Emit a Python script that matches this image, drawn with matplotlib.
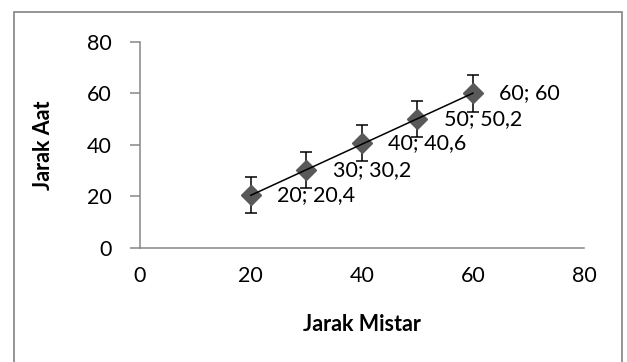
import numpy as np
import matplotlib.pyplot as plt
from matplotlib.patches import Rectangle

# data
jarak_mistar = [20, 30, 40, 50, 60]
jarak_aat = [20.4, 30.2, 40.6, 50.2, 60]
err = [7, 7, 7, 7, 7]

plt.rcParams['font.family'] = ['Lato', 'DejaVu Sans']
fs = 15.5

fig = plt.figure(figsize=(6.27, 3.62), dpi=100)
ax = fig.add_axes([0.2227, 0.315, 0.7087, 0.569])

# chart frame
fig.patches.append(Rectangle((14 / 627, -0.05), 608 / 627, 1 - 12 / 362 + 0.05,
                             transform=fig.transFigure, fill=False,
                             edgecolor='#8c8c8c', linewidth=1.3))

ax.errorbar(jarak_mistar, jarak_aat, yerr=err, fmt='none', ecolor='black',
            elinewidth=1.1, capsize=4, capthick=1.1, zorder=2)
ax.plot(jarak_mistar, jarak_aat, linestyle='none', marker='D', markersize=10,
        color='#595959', zorder=3)

# linear trend line
coef = np.polyfit(jarak_mistar, jarak_aat, 1)
xs = np.array([jarak_mistar[0], jarak_mistar[-1]])
ax.plot(xs, np.polyval(coef, xs), color='black', linewidth=1.1, zorder=4)

for x, y in zip(jarak_mistar, jarak_aat):
    lbl = f"{x:g}; {y:g}".replace('.', ',')
    ax.annotate(lbl, (x, y), xytext=(19, 0), textcoords='offset points',
                ha='left', va='center', fontsize=fs)

ax.set_xlim(0, 80)
ax.set_ylim(0, 80)
ax.set_xticks([0, 20, 40, 60, 80])
ax.set_yticks([0, 20, 40, 60, 80])

for s in ['top', 'right']:
    ax.spines[s].set_visible(False)
for s in ['left', 'bottom']:
    ax.spines[s].set_color('#868686')
    ax.spines[s].set_linewidth(1.1)

ax.tick_params(axis='y', length=7, width=1.1, color='#868686', pad=13, labelsize=fs)
ax.tick_params(axis='x', length=0, pad=13, labelsize=fs)

ax.set_xlabel('Jarak Mistar', fontsize=fs, fontweight='bold', labelpad=20)
ax.set_ylabel('Jarak Aat', fontsize=fs, fontweight='bold', labelpad=24)

fig.savefig('out.png', dpi=100)
